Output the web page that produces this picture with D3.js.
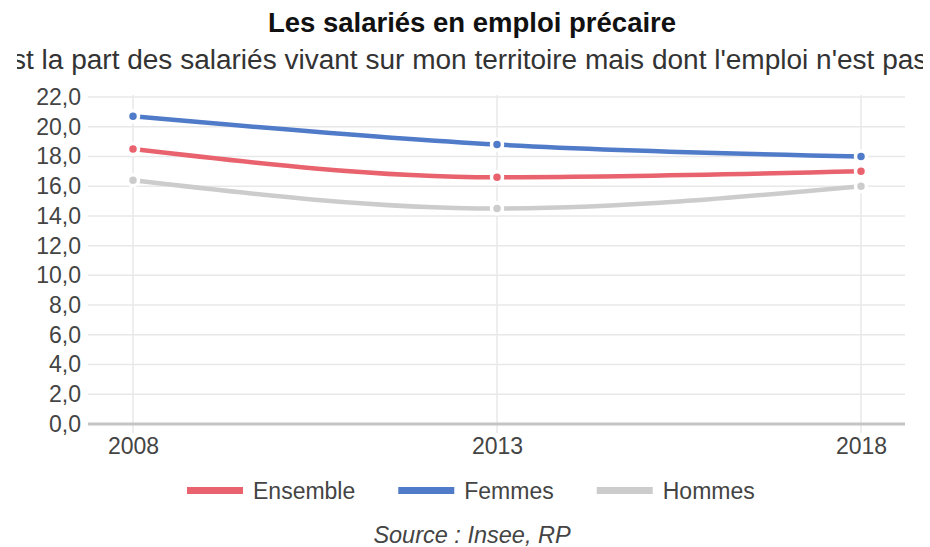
<!DOCTYPE html>
<html>
<head>
<meta charset="utf-8">
<script src="https://cdn.jsdelivr.net/npm/d3@7"></script>
<style>
  body { margin: 0; background: #fff; }
  svg { display: block; font-family: "Liberation Sans", Arial, sans-serif; }
</style>
</head>
<body>
<div id="chart"></div>
<script>
const years = [2008, 2013, 2018];
const ensemble = [18.5, 16.6, 17.0];
const femmes = [20.7, 18.8, 18.0];
const hommes = [16.4, 14.5, 16.0];
const yTicks = [0, 2, 4, 6, 8, 10, 12, 14, 16, 18, 20, 22];

const seriesList = [
  { name: "Ensemble", values: ensemble, color: "#e8636e" },
  { name: "Femmes", values: femmes, color: "#4f7bc8" },
  { name: "Hommes", values: hommes, color: "#cccccc" }
];

const W = 930, H = 547;
const svg = d3.select("#chart").append("svg")
  .attr("width", W)
  .attr("height", H);

// scales (plot spans the gridline area)
const x = d3.scaleLinear().domain([2008, 2018]).range([133, 861]);
const y = d3.scaleLinear().domain([0, 22]).range([424, 97]);
const gridLeft = 88, gridRight = 905;

// title
svg.append("text")
  .attr("x", 472).attr("y", 32)
  .attr("text-anchor", "middle")
  .attr("font-size", 27.5).attr("font-weight", "bold")
  .attr("fill", "#111")
  .text("Les salariés en emploi précaire");

// subtitle: too long for the canvas, clipped on both sides like the original
svg.append("defs").append("clipPath").attr("id", "subClip")
  .append("rect").attr("x", 17).attr("y", 35).attr("width", 906).attr("height", 50);

const subText = "C'est la part des salariés vivant sur mon territoire mais dont l'emploi n'est pas";
const probe = svg.append("text").attr("font-size", 20);
const fullW = probe.text(subText).node().getComputedTextLength();
const preW = probe.text("C'e").node().getComputedTextLength();
probe.remove();
const subSize = 20 * 916 / (fullW - preW);

svg.append("text")
  .attr("clip-path", "url(#subClip)")
  .attr("x", 12 - preW * subSize / 20)
  .attr("y", 69)
  .attr("font-size", subSize)
  .attr("fill", "#333")
  .text(subText);

// horizontal grid
svg.append("g")
  .selectAll("line")
  .data(yTicks.filter(d => d !== 0))
  .join("line")
  .attr("x1", gridLeft).attr("x2", gridRight)
  .attr("y1", d => y(d)).attr("y2", d => y(d))
  .attr("stroke", "#e8e8e8").attr("stroke-width", 1.5);

// vertical grid
svg.append("g")
  .selectAll("line")
  .data(years)
  .join("line")
  .attr("x1", d => x(d)).attr("x2", d => x(d))
  .attr("y1", 95).attr("y2", 433)
  .attr("stroke", "#e8e8e8").attr("stroke-width", 1.5);

// zero line
svg.append("line")
  .attr("x1", gridLeft).attr("x2", gridRight)
  .attr("y1", y(0)).attr("y2", y(0))
  .attr("stroke", "#c4c4c4").attr("stroke-width", 3);

// y axis labels
const yAxis = svg.append("g")
  .attr("transform", "translate(81,0)")
  .call(d3.axisLeft(y).tickValues(yTicks).tickSize(0).tickPadding(0)
    .tickFormat(d => d3.format(".1f")(d).replace(".", ",")));
yAxis.select(".domain").remove();
yAxis.selectAll("text").attr("font-size", 23).attr("fill", "#444")
  .attr("font-family", "Liberation Sans, Arial, sans-serif");

// x axis labels
const xAxis = svg.append("g")
  .attr("transform", "translate(0,438)")
  .call(d3.axisBottom(x).tickValues(years).tickSize(0).tickPadding(0)
    .tickFormat(d3.format("d")));
xAxis.select(".domain").remove();
xAxis.selectAll("text").attr("font-size", 23).attr("fill", "#444")
  .attr("font-family", "Liberation Sans, Arial, sans-serif");

// lines
const line = d3.line()
  .x((d, i) => x(years[i]))
  .y(d => y(d))
  .curve(d3.curveMonotoneX);

seriesList.slice().reverse().forEach(s => {
  svg.append("path")
    .datum(s.values)
    .attr("d", line)
    .attr("fill", "none")
    .attr("stroke", s.color)
    .attr("stroke-width", 4.5);
});

seriesList.slice().reverse().forEach(s => {
  svg.append("g")
    .selectAll("circle")
    .data(s.values)
    .join("circle")
    .attr("cx", (d, i) => x(years[i]))
    .attr("cy", d => y(d))
    .attr("r", 5.5)
    .attr("fill", s.color)
    .attr("stroke", "#fff")
    .attr("stroke-width", 3.5);
});

// legend
const legend = svg.append("g");
let lx = 187;
seriesList.forEach(s => {
  legend.append("rect")
    .attr("x", lx).attr("y", 487)
    .attr("width", 56).attr("height", 7)
    .attr("fill", s.color);
  const t = legend.append("text")
    .attr("x", lx + 66).attr("y", 499)
    .attr("font-size", 23).attr("fill", "#444")
    .text(s.name);
  lx += 66 + t.node().getComputedTextLength() + 43;
});

// source
svg.append("text")
  .attr("x", 472).attr("y", 543)
  .attr("text-anchor", "middle")
  .attr("font-size", 23.5).attr("font-style", "italic")
  .attr("fill", "#444")
  .text("Source : Insee, RP");
</script>
</body>
</html>
